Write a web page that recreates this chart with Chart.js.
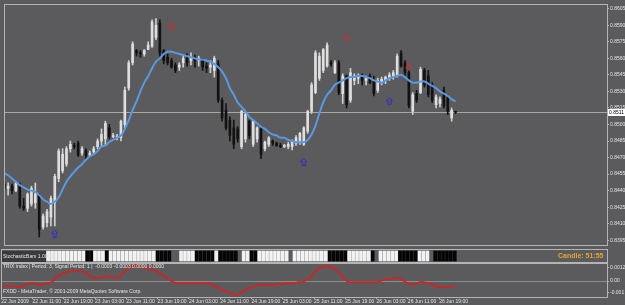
<!DOCTYPE html>
<html>
<head>
<meta charset="utf-8">
<script src="https://cdn.jsdelivr.net/npm/chart.js@4.4.0/dist/chart.umd.min.js"></script>
<style>
  html, body { margin: 0; padding: 0; background: #5b5b5e; }
  #wrap { position: relative; width: 625px; height: 305px; overflow: hidden; }
  canvas { position: absolute; left: 0; }
</style>
</head>
<body>
<div id="wrap">
  <canvas id="main" width="625" height="250" style="top:0px"></canvas>
  <canvas id="strip" width="625" height="14" style="top:249px"></canvas>
  <canvas id="trix" width="625" height="42" style="top:263px"></canvas>
</div>
<script>
// EURGBP H1, 22 Jun 2009 03:00 -> 26 Jun 2009 23:00 (one entry per bar)
const opens = [
  0.8446, 0.8442, 0.8444, 0.8440, 0.8446, 0.8426, 0.8424, 0.8428, 0.8429, 0.8435,
  0.8407, 0.8411, 0.8416, 0.8429, 0.8451, 0.8458, 0.8464, 0.8478, 0.8481, 0.8483,
  0.8474, 0.8476, 0.8472, 0.8475, 0.8480, 0.8485, 0.8487, 0.8497, 0.8489, 0.8488,
  0.8488, 0.8500, 0.8533, 0.8556, 0.8567, 0.8565, 0.8564, 0.8568, 0.8571, 0.8579,
  0.8592, 0.8567, 0.8561, 0.8558, 0.8554, 0.8552, 0.8556, 0.8560, 0.8558, 0.8560,
  0.8558, 0.8558, 0.8553, 0.8552, 0.8549, 0.8555, 0.8522, 0.8513, 0.8504, 0.8497,
  0.8496, 0.8480, 0.8487, 0.8503, 0.8482, 0.8487, 0.8496, 0.8478, 0.8482, 0.8485,
  0.8483, 0.8481, 0.8480, 0.8480, 0.8480, 0.8483, 0.8484, 0.8482, 0.8494, 0.8512,
  0.8529, 0.8542, 0.8549, 0.8553, 0.8556, 0.8547, 0.8556, 0.8528, 0.8544, 0.8522,
  0.8540, 0.8542, 0.8544, 0.8540, 0.8544, 0.8540, 0.8531, 0.8538, 0.8540, 0.8542,
  0.8544, 0.8544, 0.8565, 0.8556, 0.8547, 0.8512, 0.8528, 0.8529, 0.8549, 0.8544,
  0.8536, 0.8518, 0.8519, 0.8531, 0.8524, 0.8506, 0.8512
];
const highs = [
  0.8448, 0.8447, 0.8446, 0.8448, 0.8447, 0.8433, 0.8438, 0.8444, 0.8447, 0.8437,
  0.8419, 0.8423, 0.8435, 0.8455, 0.8478, 0.8478, 0.8480, 0.8485, 0.8483, 0.8485,
  0.8480, 0.8478, 0.8476, 0.8480, 0.8487, 0.8496, 0.8503, 0.8500, 0.8492, 0.8491,
  0.8504, 0.8534, 0.8558, 0.8575, 0.8568, 0.8567, 0.8568, 0.8575, 0.8595, 0.8596,
  0.8595, 0.8568, 0.8564, 0.8560, 0.8556, 0.8556, 0.8563, 0.8564, 0.8565, 0.8563,
  0.8562, 0.8560, 0.8556, 0.8558, 0.8562, 0.8558, 0.8524, 0.8519, 0.8507, 0.8504,
  0.8498, 0.8513, 0.8511, 0.8504, 0.8504, 0.8498, 0.8498, 0.8485, 0.8489, 0.8486,
  0.8484, 0.8483, 0.8482, 0.8484, 0.8486, 0.8490, 0.8493, 0.8498, 0.8513, 0.8538,
  0.8567, 0.8565, 0.8569, 0.8574, 0.8558, 0.8558, 0.8558, 0.8546, 0.8545, 0.8551,
  0.8546, 0.8546, 0.8546, 0.8544, 0.8546, 0.8544, 0.8542, 0.8543, 0.8544, 0.8547,
  0.8549, 0.8564, 0.8567, 0.8558, 0.8549, 0.8529, 0.8531, 0.8552, 0.8551, 0.8549,
  0.8538, 0.8527, 0.8525, 0.8534, 0.8527, 0.8515, 0.8512
];
const lows = [
  0.8440, 0.8436, 0.8437, 0.8439, 0.8424, 0.8422, 0.8421, 0.8426, 0.8424, 0.8398,
  0.8405, 0.8407, 0.8408, 0.8408, 0.8448, 0.8456, 0.8462, 0.8475, 0.8478, 0.8471,
  0.8472, 0.8469, 0.8471, 0.8473, 0.8478, 0.8481, 0.8481, 0.8487, 0.8488, 0.8486,
  0.8485, 0.8497, 0.8531, 0.8554, 0.8562, 0.8561, 0.8562, 0.8568, 0.8570, 0.8577,
  0.8562, 0.8555, 0.8554, 0.8551, 0.8547, 0.8549, 0.8552, 0.8553, 0.8554, 0.8552,
  0.8553, 0.8549, 0.8547, 0.8547, 0.8543, 0.8520, 0.8503, 0.8495, 0.8485, 0.8478,
  0.8484, 0.8478, 0.8484, 0.8487, 0.8480, 0.8484, 0.8469, 0.8476, 0.8480, 0.8481,
  0.8480, 0.8479, 0.8479, 0.8478, 0.8477, 0.8481, 0.8482, 0.8481, 0.8492, 0.8510,
  0.8528, 0.8540, 0.8547, 0.8552, 0.8553, 0.8546, 0.8527, 0.8519, 0.8515, 0.8520,
  0.8536, 0.8537, 0.8536, 0.8536, 0.8537, 0.8526, 0.8529, 0.8536, 0.8537, 0.8540,
  0.8541, 0.8543, 0.8552, 0.8544, 0.8515, 0.8509, 0.8520, 0.8528, 0.8534, 0.8525,
  0.8520, 0.8515, 0.8516, 0.8515, 0.8509, 0.8503, 0.8510
];
const closes = [
  0.8442, 0.8444, 0.8440, 0.8447, 0.8426, 0.8424, 0.8437, 0.8442, 0.8437, 0.8405,
  0.8417, 0.8421, 0.8433, 0.8453, 0.8476, 0.8473, 0.8478, 0.8482, 0.8480, 0.8472,
  0.8478, 0.8472, 0.8474, 0.8478, 0.8485, 0.8491, 0.8501, 0.8489, 0.8490, 0.8489,
  0.8503, 0.8531, 0.8556, 0.8573, 0.8565, 0.8564, 0.8567, 0.8572, 0.8593, 0.8590,
  0.8565, 0.8558, 0.8556, 0.8552, 0.8549, 0.8554, 0.8560, 0.8556, 0.8561, 0.8558,
  0.8560, 0.8552, 0.8551, 0.8554, 0.8560, 0.8522, 0.8506, 0.8497, 0.8490, 0.8482,
  0.8487, 0.8512, 0.8509, 0.8490, 0.8503, 0.8497, 0.8473, 0.8484, 0.8488, 0.8483,
  0.8481, 0.8480, 0.8481, 0.8482, 0.8485, 0.8488, 0.8492, 0.8497, 0.8512, 0.8536,
  0.8565, 0.8562, 0.8568, 0.8572, 0.8555, 0.8556, 0.8529, 0.8544, 0.8518, 0.8547,
  0.8544, 0.8544, 0.8540, 0.8542, 0.8538, 0.8528, 0.8540, 0.8541, 0.8543, 0.8545,
  0.8547, 0.8562, 0.8553, 0.8547, 0.8517, 0.8527, 0.8522, 0.8550, 0.8536, 0.8527,
  0.8522, 0.8525, 0.8523, 0.8517, 0.8512, 0.8513, 0.8511
];
// blue moving average
const maValues = [
  0.8456, 0.8454, 0.8451, 0.8448, 0.8445, 0.8443, 0.8441, 0.8440, 0.8439, 0.8436,
  0.8432, 0.8430, 0.8428, 0.8430, 0.8434, 0.8441, 0.8448, 0.8453, 0.8457, 0.8461,
  0.8464, 0.8468, 0.8471, 0.8473, 0.8476, 0.8480, 0.8481, 0.8484, 0.8486, 0.8488,
  0.8490, 0.8496, 0.8504, 0.8513, 0.8521, 0.8530, 0.8538, 0.8544, 0.8551, 0.8557,
  0.8560, 0.8564, 0.8566, 0.8566, 0.8565, 0.8564, 0.8563, 0.8562, 0.8561, 0.8560,
  0.8559, 0.8559, 0.8558, 0.8557, 0.8555, 0.8552, 0.8548, 0.8542, 0.8533, 0.8527,
  0.8520, 0.8516, 0.8512, 0.8507, 0.8504, 0.8501, 0.8498, 0.8496, 0.8493, 0.8491,
  0.8490, 0.8488, 0.8488, 0.8486, 0.8485, 0.8484, 0.8484, 0.8484, 0.8486, 0.8491,
  0.8499, 0.8510, 0.8520, 0.8527, 0.8531, 0.8536, 0.8538, 0.8540, 0.8542, 0.8543,
  0.8543, 0.8544, 0.8544, 0.8543, 0.8542, 0.8540, 0.8539, 0.8538, 0.8540, 0.8542,
  0.8543, 0.8544, 0.8545, 0.8543, 0.8540, 0.8538, 0.8538, 0.8539, 0.8539, 0.8537,
  0.8535, 0.8533, 0.8530, 0.8528, 0.8526, 0.8523, 0.8521
];
// TRIX(3) sub window
const trixValues = [
  -0.00044, -0.00044, -0.00044, -0.00044, -0.00053, -0.00053, -0.00035, -0.00026, -0.00018, -0.00026,
  -0.00035, -0.00026, -0.00018, -0.00009, 0.00026, 0.00053, 0.00070, 0.00079, 0.00088, 0.00088,
  0.00088, 0.00079, 0.00062, 0.00035, 0.00026, 0.00026, 0.00035, 0.00044, 0.00035, 0.00026,
  0.00035, 0.00062, 0.00097, 0.00123, 0.00132, 0.00132, 0.00123, 0.00114, 0.00106, 0.00097,
  0.00079, 0.00062, 0.00035, 0.00009, -0.00009, -0.00018, -0.00018, -0.00018, -0.00018, -0.00018,
  -0.00018, -0.00018, -0.00018, -0.00018, -0.00035, -0.00053, -0.00070, -0.00088, -0.00097, -0.00114,
  -0.00123, -0.00106, -0.00088, -0.00070, -0.00053, -0.00044, -0.00035, -0.00035, -0.00035, -0.00035,
  -0.00035, -0.00026, -0.00026, -0.00018, -0.00018, -0.00018, -0.00009, -0.00009, 0.00009, 0.00026,
  0.00070, 0.00106, 0.00123, 0.00132, 0.00123, 0.00114, 0.00088, 0.00053, 0.00009, -0.00009,
  -0.00009, -0.00009, -0.00009, -0.00009, -0.00009, -0.00009, -0.00009, 0.00000, 0.00009, 0.00018,
  0.00018, 0.00026, 0.00026, 0.00000, -0.00018, -0.00035, -0.00026, -0.00009, -0.00009, -0.00018,
  -0.00026, -0.00044, -0.00053, -0.00053, -0.00053, -0.00053, -0.00044
];
// stochastic bars strip: 1 = up (white), -1 = down (black), 0 = none
const stochState = [
  0, 0, 0, 0, 0, 0, 0, 0, 0, 0,
  0, 0, 1, 1, 1, 1, 1, 1, 1, 1,
  1, 1, -1, -1, 1, 1, 1, -1, 1, 1,
  1, 1, 1, 1, 1, 1, 1, 1, 1, 1,
  -1, -1, -1, -1, 0, 0, 1, 1, 1, 1,
  -1, -1, -1, -1, -1, 1, -1, -1, -1, -1,
  -1, 0, 1, 1, -1, -1, 1, 1, 1, 1,
  1, 1, 1, 1, 0, 1, 1, 1, 1, 1,
  1, 1, 1, 1, -1, -1, -1, -1, -1, 1,
  1, 1, 1, 1, 1, -1, 0, 1, 1, 1,
  1, 1, -1, -1, -1, -1, -1, 1, 1, 1,
  0, -1, -1, -1, -1, -1, -1
];
// arrow signals
const sellBars = [43, 88, 104];
const sellPrices = [0.8588, 0.8578, 0.8552];
const buyBars = [13, 77, 99];
const buyPrices = [0.8401, 0.8466, 0.8521];

const priceTicks = [0.8395, 0.8410, 0.8425, 0.8440, 0.8455, 0.8470, 0.8485, 0.8500,
                    0.8515, 0.8530, 0.8545, 0.8560, 0.8575, 0.8590, 0.8605];
const trixTicks = [-0.001, 0, 0.0012];
const trixTickText = ['-0.001', '0.00', '0.0012'];
const timeTickBars = [0, 8, 16, 24, 32, 40, 48, 56, 64, 72, 80, 88, 96, 104, 112];
const timeLabels = ['22 Jun 2009', '22 Jun 11:00', '22 Jun 19:00', '23 Jun 03:00', '23 Jun 11:00',
  '23 Jun 19:00', '24 Jun 03:00', '24 Jun 11:00', '24 Jun 19:00', '25 Jun 03:00',
  '25 Jun 11:00', '25 Jun 19:00', '26 Jun 03:00', '26 Jun 11:00', '26 Jun 19:00'];

Chart.defaults.font.family = '"Liberation Sans", Arial, sans-serif';
Chart.defaults.animation = false;

const X_MIN = 0.2, X_MAX = 154.93;
const FRAME = '#b4b4b4';
const TEXT = '#e4e4e4';
const idx = closes.map((_, i) => i);
const isUp = i => closes[i] >= opens[i];

function arrowIcon(color, up) {
  const c = document.createElement('canvas');
  c.width = 7; c.height = 8;
  const g = c.getContext('2d');
  g.strokeStyle = color;
  g.lineWidth = 1;
  if (!up) { g.translate(0, 8); g.scale(1, -1); }
  g.beginPath();
  g.moveTo(3.5, 0.5); g.lineTo(6.5, 3.5); g.lineTo(5, 3.5); g.lineTo(5, 7.5);
  g.lineTo(2, 7.5); g.lineTo(2, 3.5); g.lineTo(0.5, 3.5); g.closePath();
  g.stroke();
  return c;
}

const framePlugin = {
  id: 'frame',
  afterDraw(chart) {
    const { ctx, chartArea: a } = chart;
    ctx.save();
    ctx.strokeStyle = FRAME;
    ctx.lineWidth = 1;
    ctx.strokeRect(Math.round(a.left) - 0.5, Math.round(a.top) - 0.5,
      Math.round(a.right - a.left) + 1, Math.round(a.bottom - a.top) + 1);
    ctx.restore();
  }
};

// bid line + price box
const bidPlugin = {
  id: 'bid',
  beforeDatasetsDraw(chart) {
    const { ctx, chartArea: a, scales } = chart;
    const y = Math.round(scales.y.getPixelForValue(closes[closes.length - 1])) + 0.5;
    ctx.save();
    ctx.strokeStyle = '#a8a8a0';
    ctx.beginPath(); ctx.moveTo(a.left, y); ctx.lineTo(a.right, y); ctx.stroke();
    ctx.restore();
  },
  afterDraw(chart) {
    const { ctx, scales } = chart;
    const last = closes[closes.length - 1];
    const y = Math.round(scales.y.getPixelForValue(last));
    ctx.save();
    ctx.fillStyle = '#ffffff';
    ctx.fillRect(608, y - 3, 17, 7);
    ctx.fillStyle = '#000';
    ctx.font = '5px "Liberation Sans", Arial';
    ctx.textBaseline = 'middle';
    ctx.fillText(last.toFixed(4), 609, y + 0.5);
    ctx.restore();
  }
};

const bar = (data, color, w, order) => ({
  type: 'bar', data, backgroundColor: color, barThickness: w, grouped: false, order
});

new Chart(document.getElementById('main'), {
  type: 'bar',
  data: {
    datasets: [
      {
        type: 'scatter',
        data: sellBars.map((b, k) => ({ x: b, y: sellPrices[k] })),
        pointStyle: arrowIcon('#c83232', false), order: 0
      },
      {
        type: 'scatter',
        data: buyBars.map((b, k) => ({ x: b, y: buyPrices[k] })),
        pointStyle: arrowIcon('#2a2ad0', true), order: 0
      },
      {
        type: 'line',
        data: maValues.map((v, i) => ({ x: i, y: v })),
        borderColor: '#5a98e2', borderWidth: 2, pointRadius: 0, tension: 0.4, order: 1
      },
      bar(idx.filter(isUp).map(i => ({ x: i, y: [opens[i], closes[i]] })), '#dedede', 2, 2),
      bar(idx.filter(i => !isUp(i)).map(i => ({ x: i, y: [opens[i], closes[i]] })), '#121212', 2, 2),
      bar(idx.filter(isUp).map(i => ({ x: i, y: [lows[i], highs[i]] })), '#cfcfcf', 1, 3),
      bar(idx.filter(i => !isUp(i)).map(i => ({ x: i, y: [lows[i], highs[i]] })), '#141414', 1, 3)
    ]
  },
  options: {
    responsive: false,
    devicePixelRatio: 1,
    layout: { padding: { left: 2, right: 0, top: 3, bottom: 2 } },
    plugins: { legend: { display: false }, tooltip: { enabled: false } },
    scales: {
      x: { type: 'linear', display: false, min: X_MIN, max: X_MAX, offset: false },
      y: {
        position: 'right',
        min: 0.83907, max: 0.86084,
        afterBuildTicks: s => { s.ticks = priceTicks.map(v => ({ value: v })); },
        afterFit: s => { s.width = 18; s.paddingTop = 0; s.paddingBottom = 0; },
        ticks: { color: TEXT, font: { size: 5 }, padding: 1, callback: v => v.toFixed(4) },
        grid: { drawOnChartArea: false, tickLength: 2, color: FRAME },
        border: { display: false }
      }
    }
  },
  plugins: [framePlugin, bidPlugin]
});

// stochastic bars strip
const stripLabels = {
  id: 'stripLabels',
  afterDraw(chart) {
    const { ctx } = chart;
    ctx.save();
    ctx.fillStyle = '#3a3a3c';
    ctx.fillRect(2, 2, 44, 11);
    ctx.fillStyle = TEXT;
    ctx.font = '5px "Liberation Sans", Arial';
    ctx.textBaseline = 'middle';
    ctx.fillText('StochasticBars 1.0000', 3, 7.5);
    ctx.fillStyle = '#e6a435';
    ctx.font = 'bold 7px "Liberation Sans", Arial';
    ctx.fillText('Candle: 51:55', 558, 7.5);
    ctx.restore();
  }
};

new Chart(document.getElementById('strip'), {
  type: 'bar',
  data: {
    datasets: [
      bar(idx.filter(i => stochState[i] === 1).map(i => ({ x: i, y: [0, 1] })), '#f2f2f2', 3, 1),
      bar(idx.filter(i => stochState[i] === -1).map(i => ({ x: i, y: [0, 1] })), '#050505', 3, 1)
    ]
  },
  options: {
    responsive: false,
    devicePixelRatio: 1,
    layout: { padding: { left: 2, right: 18, top: 1, bottom: 1 } },
    plugins: { legend: { display: false }, tooltip: { enabled: false } },
    scales: {
      x: { type: 'linear', display: false, min: X_MIN, max: X_MAX, offset: false },
      y: { display: false, min: -0.1, max: 1.1 }
    }
  },
  plugins: [framePlugin, stripLabels]
});

// TRIX window with the time axis
const trixLabels = {
  id: 'trixLabels',
  afterDraw(chart) {
    const { ctx } = chart;
    ctx.save();
    ctx.fillStyle = TEXT;
    ctx.font = '5px "Liberation Sans", Arial';
    ctx.textBaseline = 'middle';
    ctx.fillText('TRIX index | Period: 3, Signal Period: 1 |  -0.0003 -0.0003 0.0000 0.0000', 3, 4);
    ctx.fillText('FXDD - MetaTrader, \u00a9 2001-2009 MetaQuotes Software Corp.', 3, 29);
    ctx.restore();
  }
};

new Chart(document.getElementById('trix'), {
  type: 'line',
  data: {
    datasets: [{
      data: trixValues.map((v, i) => ({ x: i, y: v })),
      borderColor: '#e01c1c', borderWidth: 1.6, pointRadius: 0, tension: 0.4
    }]
  },
  options: {
    responsive: false,
    devicePixelRatio: 1,
    layout: { padding: { left: 2, right: 0, top: 1, bottom: 0 } },
    plugins: { legend: { display: false }, tooltip: { enabled: false } },
    scales: {
      x: {
        type: 'linear', min: X_MIN, max: X_MAX, offset: false,
        afterBuildTicks: s => { s.ticks = timeTickBars.map(v => ({ value: v })); },
        afterFit: s => { s.height = 8; s.paddingLeft = 0; s.paddingRight = 0; },
        ticks: {
          autoSkip: false, maxRotation: 0, align: 'start', padding: 0,
          color: TEXT, font: { size: 5 },
          callback: (v, i) => timeLabels[i]
        },
        grid: { drawOnChartArea: false, tickLength: 2, color: FRAME },
        border: { color: FRAME }
      },
      y: {
        position: 'right',
        min: -0.00141, max: 0.0015,
        afterBuildTicks: s => { s.ticks = trixTicks.map(v => ({ value: v })); },
        afterFit: s => { s.width = 18; s.paddingTop = 0; s.paddingBottom = 0; },
        ticks: { color: TEXT, font: { size: 5 }, padding: 1, callback: (v, i) => trixTickText[i] },
        grid: {
          color: c => (c.tick && c.tick.value === 0 ? '#8c8c8c' : 'rgba(0,0,0,0)'),
          tickColor: FRAME, tickLength: 2
        },
        border: { display: false }
      }
    }
  },
  plugins: [framePlugin, trixLabels]
});
</script>
</body>
</html>
